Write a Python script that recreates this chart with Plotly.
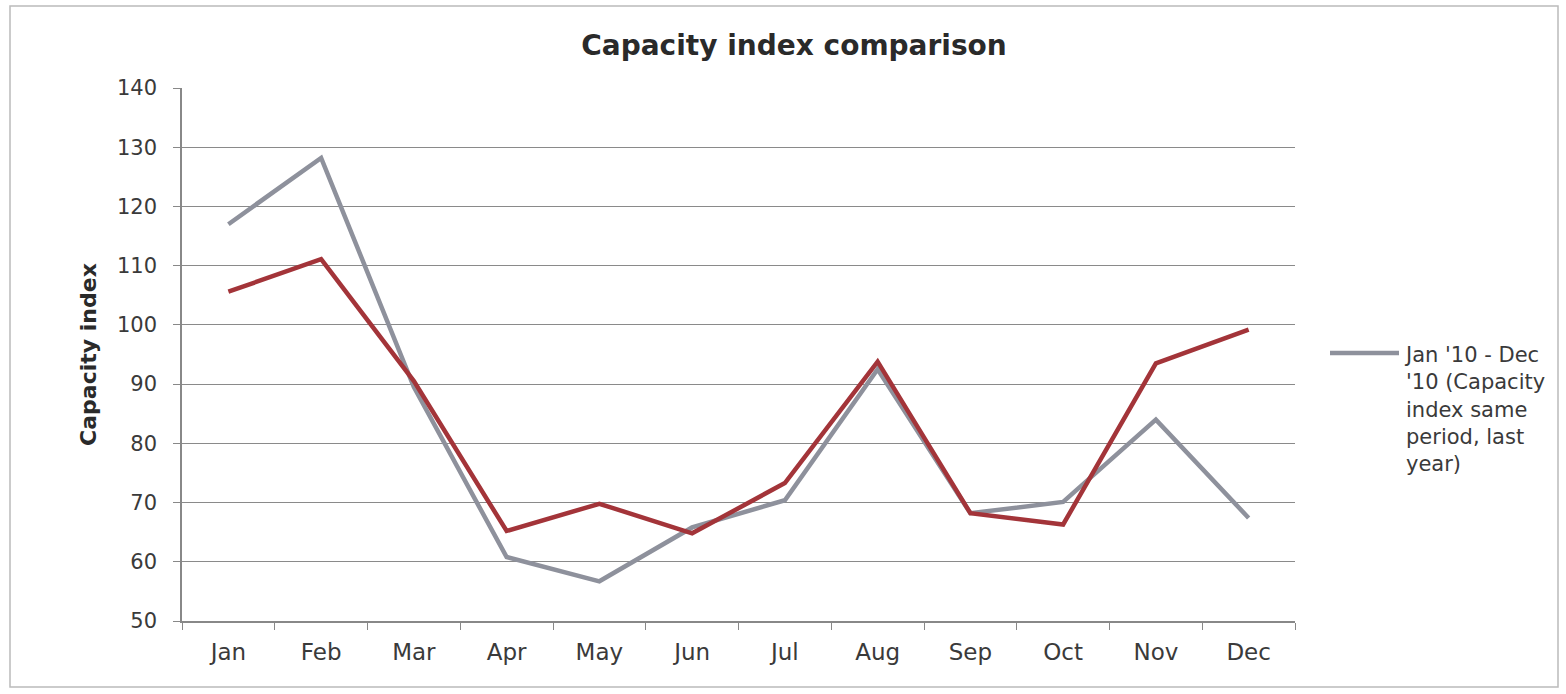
import plotly.graph_objects as go

months = ["Jan", "Feb", "Mar", "Apr", "May", "Jun", "Jul", "Aug", "Sep", "Oct", "Nov", "Dec"]
last_year = [117, 128.2, 89.5, 60.8, 56.7, 65.8, 70.4, 92.5, 68.2, 70.1, 84.0, 67.4]
this_year = [105.6, 111.1, 90.5, 65.2, 69.8, 64.8, 73.3, 93.8, 68.2, 66.3, 93.5, 99.2]
legend_name = "Jan '10 - Dec<br>'10 (Capacity<br>index same<br>period, last<br>year)"
y_ticks = [50, 60, 70, 80, 90, 100, 110, 120, 130, 140]

GRAY = "#8E919C"
RED = "#A33439"

fig = go.Figure()
fig.add_trace(go.Scatter(
    x=months, y=last_year, mode="lines", name="Jan '10 - Dec '10 (Capacity index same period, last year)",
    line=dict(color=GRAY, width=4.5), showlegend=False,
))
fig.add_trace(go.Scatter(
    x=months, y=this_year, mode="lines", name="Capacity index",
    line=dict(color=RED, width=4.5), showlegend=False,
))

font_family = "DejaVu Sans, Verdana, sans-serif"
PW = 1113.0  # plot width px
PH = 533.0   # plot height px
L, B = 182.0, 621.0

def px_x(x):
    return (x - L) / PW

def px_y(y):
    return (B - y) / PH

fig.update_layout(
    width=1566, height=694,
    margin=dict(l=182, r=271, t=88, b=73),
    paper_bgcolor="white", plot_bgcolor="white",
    font=dict(family=font_family, size=21, color="#3a3a3a"),
    title=dict(text="<b>Capacity index comparison</b>", x=794/1566, xref="container", xanchor="center",
               y=0.935, yref="container", yanchor="middle",
               font=dict(size=28, color="#2a2a2a", family=font_family)),
    showlegend=False,
    xaxis=dict(
        categoryorder="array", categoryarray=months,
        tickson="boundaries", ticks="outside", ticklen=7, tickcolor="#888888",
        showline=True, linecolor="#888888", linewidth=1.5,
        showgrid=False, tickfont=dict(size=23, color="#3a3a3a"),
        ticklabelstandoff=10,
        range=[-0.5, 11.5],
    ),
    yaxis=dict(
        range=[50, 140], tickvals=y_ticks, ticks="outside", ticklen=7, tickcolor="#888888",
        showline=True, linecolor="#888888", linewidth=1.5,
        showgrid=True, gridcolor="#8A8A8A", gridwidth=1.3,
        zeroline=False, tickfont=dict(size=21, color="#3a3a3a"),
        ticklabelstandoff=12,
        title=dict(text="<b>Capacity index</b>", font=dict(size=22, color="#2a2a2a"), standoff=14),
    ),
    shapes=[
        dict(type="rect", xref="paper", yref="paper",
             x0=px_x(10), x1=px_x(1558), y0=px_y(687), y1=px_y(6),
             line=dict(color="#BBBBBB", width=1.5), layer="below"),
        dict(type="line", xref="paper", yref="paper",
             x0=px_x(1330), x1=px_x(1399), y0=px_y(353), y1=px_y(353),
             line=dict(color=GRAY, width=4.5)),
    ],
    annotations=[
        dict(text=legend_name, xref="paper", yref="paper",
             x=px_x(1402), y=px_y(341), xanchor="left", yanchor="top",
             align="left", showarrow=False,
             font=dict(size=21, color="#3a3a3a", family=font_family)),
    ],
)

fig.write_html("out.html")
